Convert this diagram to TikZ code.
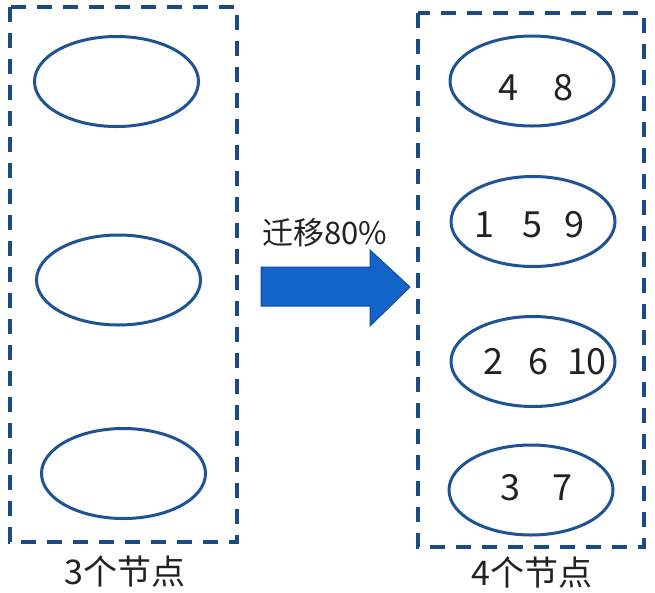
\documentclass[tikz,border=0pt]{standalone}
\usepackage{fontspec}
\setmainfont{Noto Sans CJK SC}
\usetikzlibrary{shapes.geometric}
\definecolor{framenavy}{RGB}{27,75,135}
\definecolor{ringblue}{RGB}{30,84,150}
\definecolor{arrowblue}{RGB}{18,100,200}
\definecolor{arrowedge}{RGB}{14,78,160}
\definecolor{inkgray}{RGB}{34,34,34}
\tikzset{
  frame/.style={draw=framenavy,line width=3.5pt,dash pattern=on 15pt off 11pt},
  ring/.style={draw=ringblue,line width=3pt,shape=ellipse,minimum width=164pt,minimum height=90pt,inner sep=0pt},
  num/.style={text=inkgray,font=\fontsize{36}{36}\selectfont,inner sep=0pt},
  caption/.style={text=inkgray,font=\fontsize{34}{34}\selectfont,inner sep=0pt}
}

\begin{document}
\begin{tikzpicture}[x=1pt,y=-1pt]
   \useasboundingbox[fill=white] (0,0) rectangle (655,592);
   \draw[frame] (10,7) rectangle (237,542);
   \draw[frame] (418,13) rectangle (644,547);
   \path (116.5,81.5) node[ring] (L1) {};
   \path (118.5,280) node[ring] (L2) {};
   \path (123.5,473.5) node[ring] (L3) {};
   \path (532,81) node[ring] (R1) {};
   \path (533,221.5) node[ring] (R2) {};
   \path (533,361.5) node[ring] (R3) {};
   \path (531,490) node[ring] (R4) {};
   \path (535.5,88) node[num] (R1n) {4\hspace{35pt}8};
   \path (529.5,225) node[num] (R2n) {1\hspace{29pt}5\hspace{22pt}9};
   \path (545,362) node[num] (R3n) {2\hspace{25pt}6\hspace{19pt}10};
   \path (536.5,488) node[num] (R4n) {3\hspace{33pt}7};
   \fill[arrowblue,draw=arrowedge,line width=1pt,line join=miter]
     (261,267) -- (370,267) -- (370,250) -- (410,287) -- (370,326) -- (370,306) -- (261,306) -- cycle;
   \path (325,233) node[caption,font=\fontsize{31}{31}\selectfont] (move) {迁移80\%};
   \path (125,572) node[caption] (Lcap) {3个节点};
   \path (532,573) node[caption] (Rcap) {4个节点};
\end{tikzpicture}
\end{document}
